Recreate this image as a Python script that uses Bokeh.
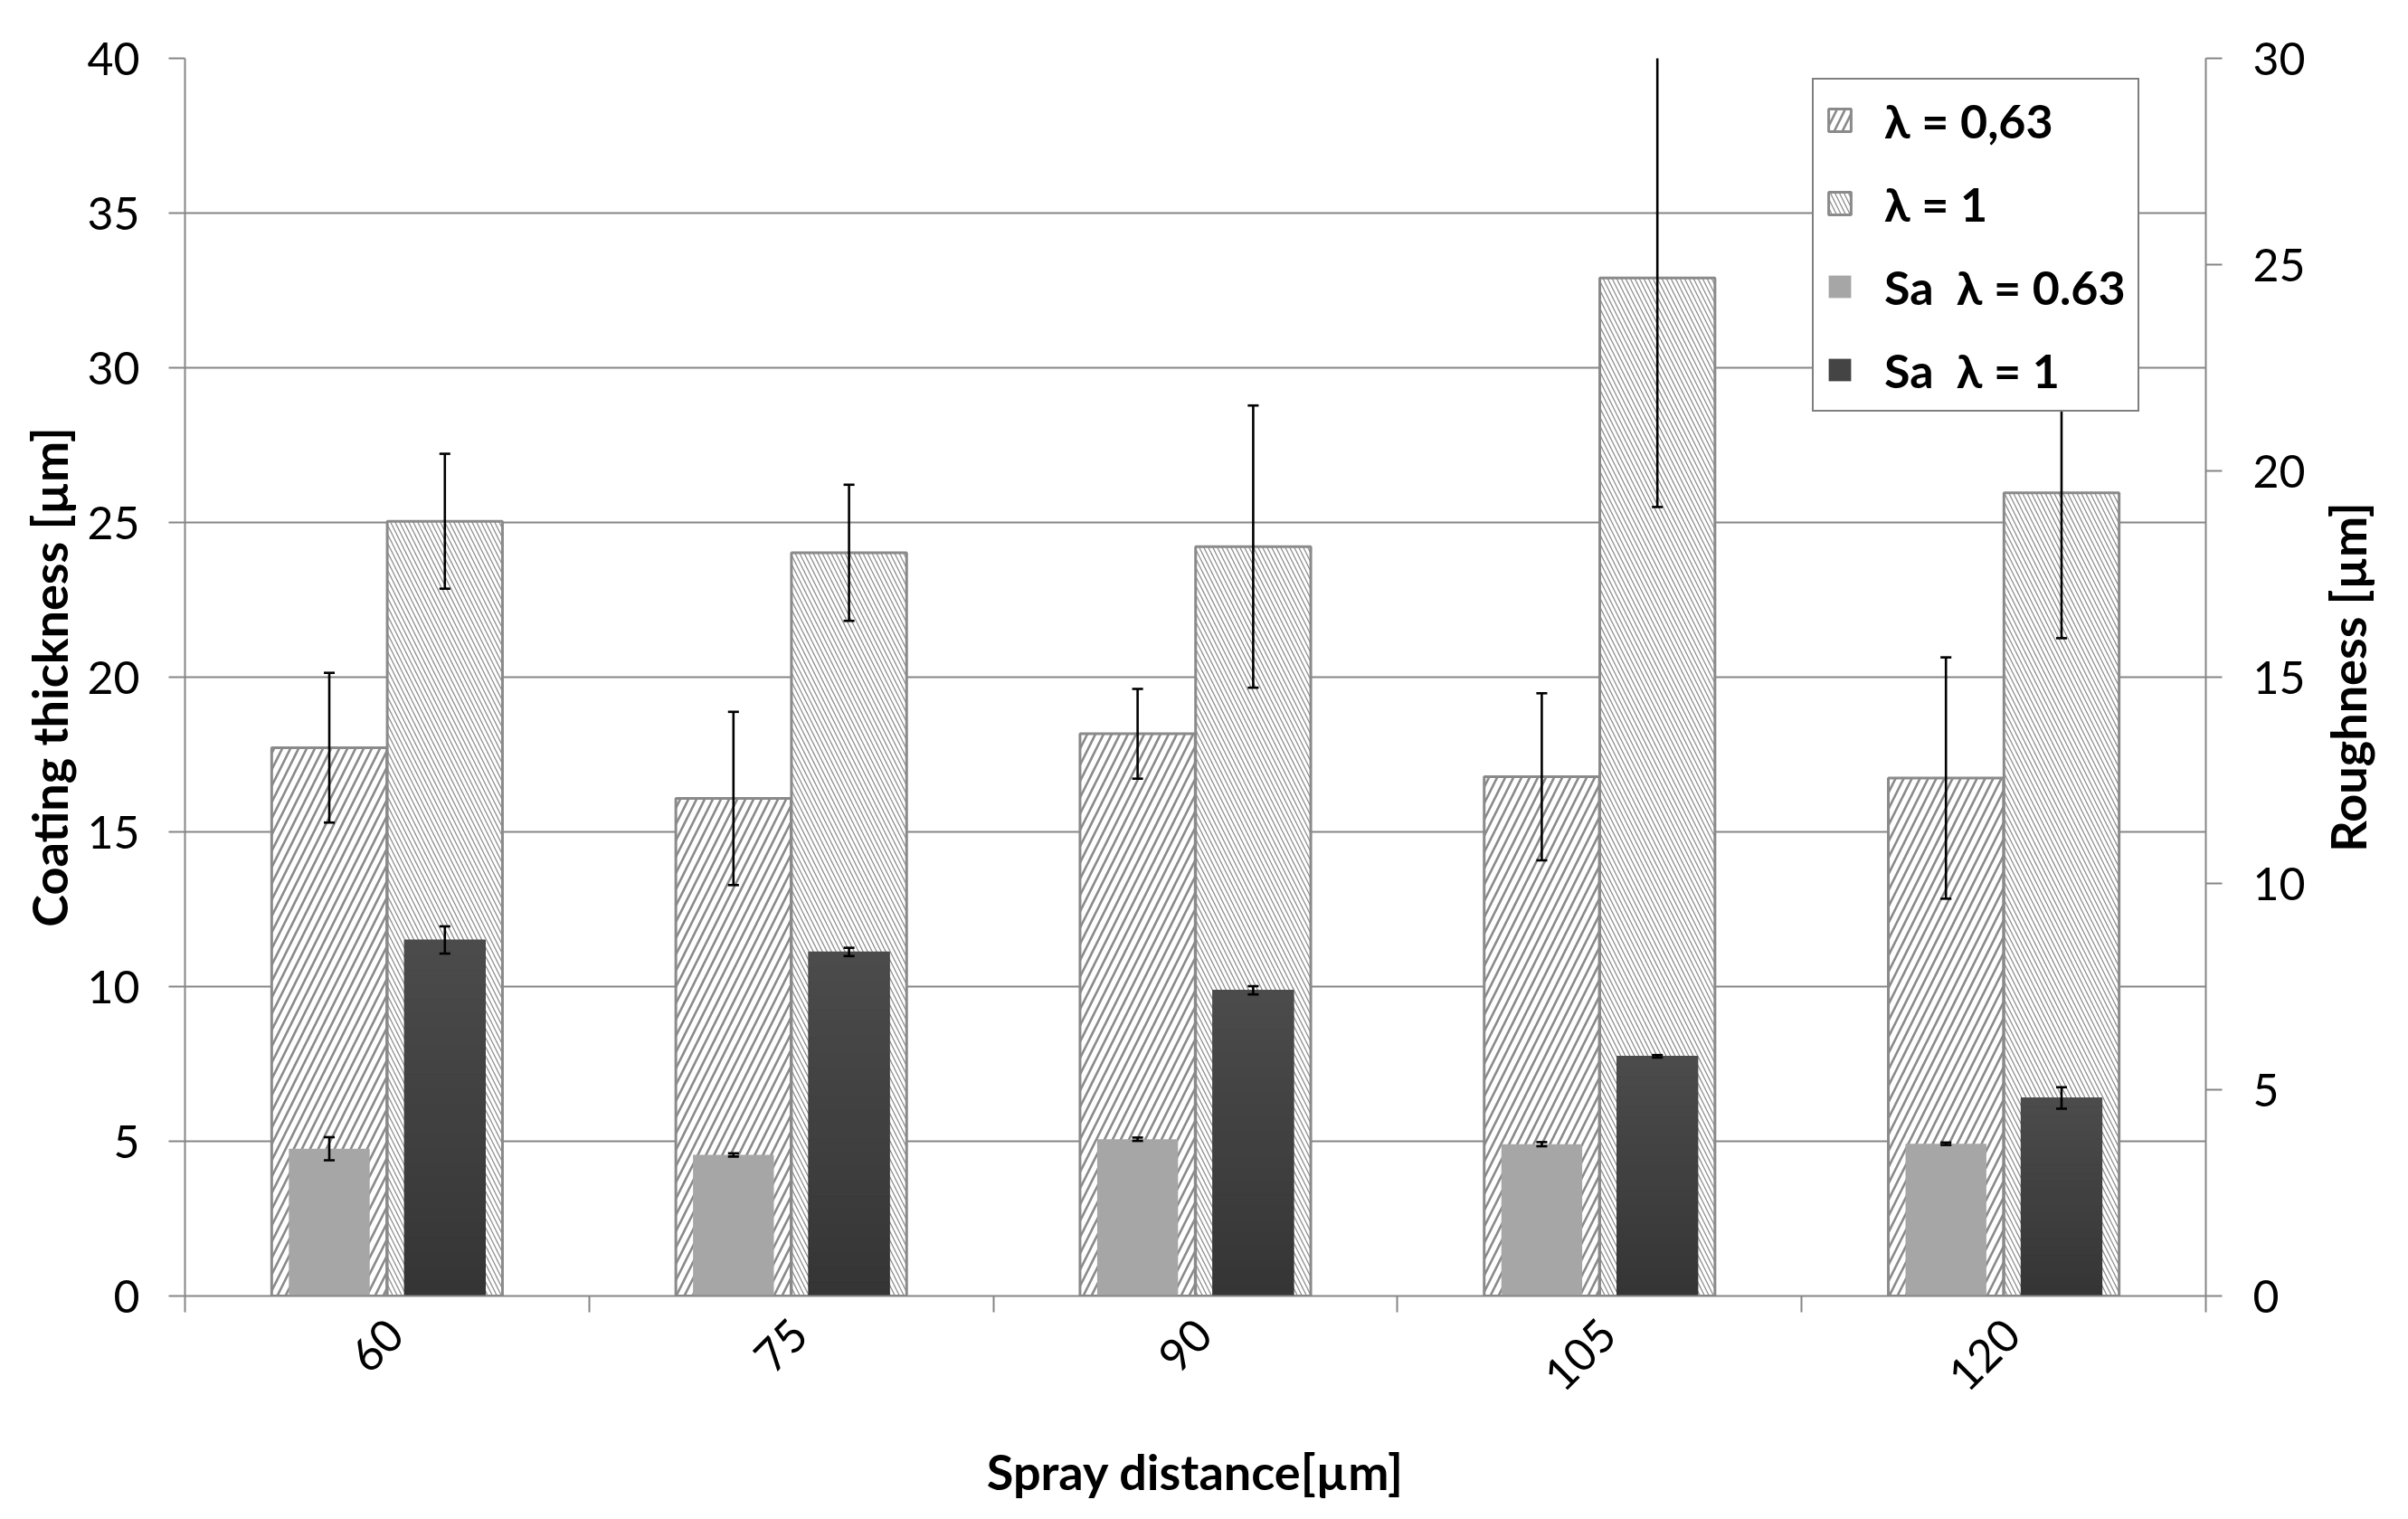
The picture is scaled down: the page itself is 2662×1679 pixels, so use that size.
import math
import numpy as np
from bokeh.plotting import figure
from bokeh.layouts import row
from bokeh.models import (Range1d, LinearAxis, FixedTicker, Legend, LegendItem, Label)
from bokeh.embed import file_html
from bokeh.resources import INLINE

# ---------------- data ----------------
distances = ["60", "75", "90", "105", "120"]
thick_063 = [17.72, 16.08, 18.17, 16.78, 16.74]
thick_063_err = [2.42, 2.80, 1.45, 2.70, 3.90]
thick_1 = [25.04, 24.02, 24.22, 32.90, 25.96]
thick_1_err = [2.18, 2.20, 4.56, 7.40, 4.70]
sa_063 = [3.57, 3.42, 3.80, 3.68, 3.69]
sa_063_err = [0.28, 0.04, 0.04, 0.05, 0.03]
sa_1 = [8.63, 8.34, 7.41, 5.81, 4.80]
sa_1_err = [0.33, 0.10, 0.10, 0.03, 0.26]

left_ticks = [0, 5, 10, 15, 20, 25, 30, 35, 40]
right_ticks = [0, 5, 10, 15, 20, 25, 30]

FONT = "Lato"
GRID = "#868686"

# ---------------- layout helpers ----------------
n = len(distances)
centers = np.arange(n) + 0.5
OFF = 0.143
W_THICK = 0.285
W_SA = 0.20
LABEL_SHIFT = 0.02
x_a = centers - OFF
x_b = centers + OFF

BORDER_TOP = 64
BORDER_BOTTOM = 231
HEIGHT = 1663

p = figure(width=2560, height=HEIGHT, output_backend="svg", toolbar_location=None,
           x_range=Range1d(0, n), y_range=Range1d(left_ticks[0], left_ticks[-1]),
           min_border_left=204, min_border_right=122,
           min_border_top=BORDER_TOP, min_border_bottom=BORDER_BOTTOM)
p.extra_y_ranges = {"r": Range1d(right_ticks[0], right_ticks[-1])}
p.outline_line_color = None
p.background_fill_color = "white"
p.border_fill_color = "white"

# grid
p.xgrid.visible = False
p.ygrid.ticker = FixedTicker(ticks=left_ticks)
p.ygrid.grid_line_color = GRID
p.ygrid.grid_line_width = 2

# x axis
label_pos = [float(c + LABEL_SHIFT) for c in centers]
xa = p.xaxis[0]
xa.ticker = FixedTicker(ticks=label_pos, minor_ticks=list(range(n + 1)))
xa.major_label_overrides = {lp: d for lp, d in zip(label_pos, distances)}
xa.major_label_orientation = math.pi / 4
xa.major_tick_line_color = None
xa.major_tick_out = 0
xa.major_tick_in = 0
xa.minor_tick_line_color = GRID
xa.minor_tick_line_width = 2
xa.minor_tick_out = 18
xa.minor_tick_in = 0
xa.axis_line_color = GRID
xa.axis_line_width = 2
xa.major_label_text_font = FONT
xa.major_label_text_font_size = "50px"
xa.major_label_text_color = "black"
xa.major_label_standoff = 16
xa.axis_label = "Spray distance[µm]"
xa.axis_label_text_font = FONT
xa.axis_label_text_font_style = "bold"
xa.axis_label_text_font_size = "54px"
xa.axis_label_text_color = "black"
xa.axis_label_standoff = 38

# left axis
ya = p.yaxis[0]
ya.ticker = FixedTicker(ticks=left_ticks)
ya.minor_tick_line_color = None
ya.major_tick_line_color = GRID
ya.major_tick_line_width = 2
ya.major_tick_out = 18
ya.major_tick_in = 0
ya.axis_line_color = GRID
ya.axis_line_width = 2
ya.major_label_text_font = FONT
ya.major_label_text_font_size = "50px"
ya.major_label_text_color = "black"
ya.major_label_standoff = 32
ya.axis_label = "Coating thickness [µm]"
ya.axis_label_text_font = FONT
ya.axis_label_text_font_style = "bold"
ya.axis_label_text_font_size = "54px"
ya.axis_label_text_color = "black"
ya.axis_label_standoff = 6

# right axis
ra = LinearAxis(y_range_name="r", ticker=FixedTicker(ticks=right_ticks))
ra.minor_tick_line_color = None
ra.major_tick_line_color = GRID
ra.major_tick_line_width = 2
ra.major_tick_out = 18
ra.major_tick_in = 0
ra.axis_line_color = GRID
ra.axis_line_width = 2
ra.major_label_text_font = FONT
ra.major_label_text_font_size = "50px"
ra.major_label_text_color = "black"
ra.major_label_standoff = 34
p.add_layout(ra, "right")

# ---------------- thickness bars (hatched) ----------------
r_t063 = p.vbar(x=x_a, top=thick_063, bottom=0, width=W_THICK,
                fill_color="white", line_color="#8a8a8a", line_width=3,
                hatch_pattern="right_diagonal_line", hatch_color="#8a8a8a",
                hatch_scale=18, hatch_weight=2.6)
r_t1 = p.vbar(x=x_b, top=thick_1, bottom=0, width=W_THICK,
              fill_color="white", line_color="#8a8a8a", line_width=3,
              hatch_pattern="left_diagonal_line", hatch_color="#8f8f8f",
              hatch_scale=10, hatch_weight=1.3)

# ---------------- roughness bars ----------------
r_s063 = p.vbar(x=x_a, top=sa_063, bottom=0, width=W_SA, y_range_name="r",
                fill_color="#a6a6a6", line_color=None)
r_s1 = p.vbar(x=x_b, top=sa_1, bottom=0, width=W_SA, y_range_name="r",
              fill_color="#444444", line_color=None)
# vertical gradient (dark at bottom, lighter at top)
NS = 24
sa1 = np.array(sa_1)
g_left, g_right, g_bot, g_top, g_col = [], [], [], [], []
for k in range(NS):
    t = k / (NS - 1)
    c = int(round(0x35 + (0x4b - 0x35) * t))
    for i in range(n):
        g_left.append(x_b[i] - W_SA / 2)
        g_right.append(x_b[i] + W_SA / 2)
        g_bot.append(sa1[i] * k / NS)
        g_top.append(sa1[i] * (k + 1) / NS)
        g_col.append("#%02x%02x%02x" % (c, c, c))
p.quad(left=g_left, right=g_right, bottom=g_bot, top=g_top, y_range_name="r",
       fill_color=g_col, line_color=g_col, line_width=1)

# ---------------- error bars ----------------
CAP = 0.0135


def error_bars(xs, vals, errs, yname=None):
    xs = np.array(xs)
    v = np.array(vals)
    e = np.array(errs)
    kw = dict(line_color="black", line_width=2.6)
    if yname:
        kw["y_range_name"] = yname
    p.segment(x0=xs, y0=v - e, x1=xs, y1=v + e, **kw)
    p.segment(x0=xs - CAP, y0=v + e, x1=xs + CAP, y1=v + e, **kw)
    p.segment(x0=xs - CAP, y0=v - e, x1=xs + CAP, y1=v - e, **kw)


error_bars(x_a, thick_063, thick_063_err)
error_bars(x_b, thick_1, thick_1_err)
error_bars(x_a, sa_063, sa_063_err, "r")
error_bars(x_b, sa_1, sa_1_err, "r")

# ---------------- legend ----------------
legend = Legend(items=[
    LegendItem(label="λ = 0,63", renderers=[r_t063]),
    LegendItem(label="λ = 1", renderers=[r_t1]),
    LegendItem(label="Sa  λ = 0.63", renderers=[r_s063]),
    LegendItem(label="Sa  λ = 1", renderers=[r_s1]),
], location=(1799, 977))
legend.label_text_font = FONT
legend.label_text_font_style = "bold"
legend.label_text_font_size = "52px"
legend.label_text_color = "black"
legend.label_height = 63
legend.label_standoff = 34
legend.glyph_width = 31
legend.glyph_height = 31
legend.spacing = 29
legend.padding = 13
legend.margin = 0
legend.border_line_color = "black"
legend.border_line_width = 2.5
legend.background_fill_color = "white"
legend.background_fill_alpha = 1.0
p.add_layout(legend)

# ---------------- right-hand axis title (reads bottom-to-top) ----------------
q = figure(width=70, height=HEIGHT, output_backend="svg", toolbar_location=None,
           x_range=Range1d(0, 1), y_range=p.y_range,
           x_axis_type=None, y_axis_type=None,
           min_border_left=0, min_border_right=0,
           min_border_top=BORDER_TOP, min_border_bottom=BORDER_BOTTOM)
q.outline_line_color = None
q.grid.visible = False
q.background_fill_color = "white"
q.border_fill_color = "white"
q.add_layout(Label(x=0.5, y=(left_ticks[0] + left_ticks[-1]) / 2,
                   text="Roughness [µm]", angle=math.pi / 2,
                   text_align="center", text_baseline="middle",
                   text_font=FONT, text_font_style="bold",
                   text_font_size="54px", text_color="black"))

layout = row(p, q, spacing=0)
open("out.html", "w").write(file_html(layout, INLINE))
